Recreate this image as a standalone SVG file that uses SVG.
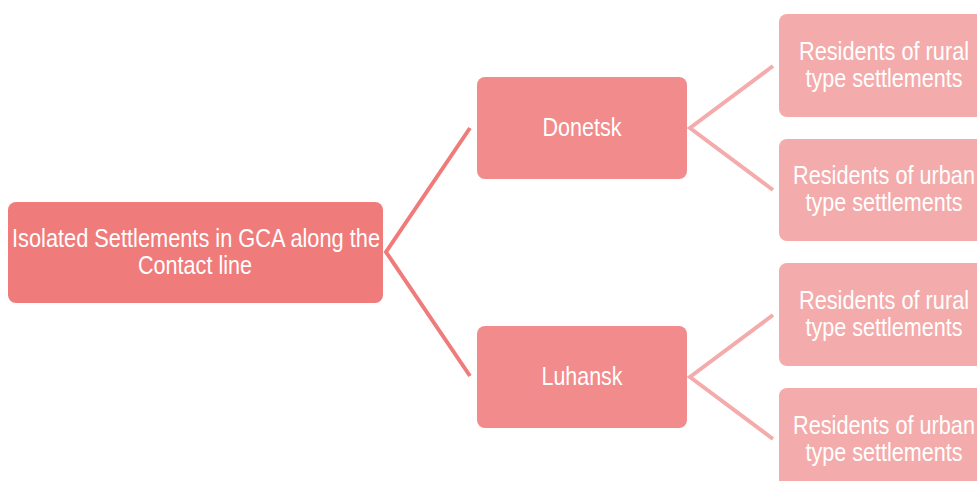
<svg xmlns="http://www.w3.org/2000/svg" width="977" height="481" viewBox="0 0 977 481">
<style>
text{font-family:"Liberation Sans",Arial,sans-serif;fill:#fff;font-size:25px;text-anchor:middle}
.root{fill:#F07B7B}
.l2{fill:#F28B8B}
.l3{fill:#F4ABAB}
.c1{stroke:#F07B7B;stroke-width:4;fill:none}
.c2{stroke:#F4ABAB;stroke-width:4;fill:none}
</style>
<rect width="977" height="481" fill="#fff"/>
<g id="connectors">
<polyline class="c1" points="470,128 386,252 470,376"/>
<polyline class="c2" points="773,66 690,128 773,190"/>
<polyline class="c2" points="773,315 690,377 773,439"/>
</g>
<g id="root">
<rect class="root" x="8" y="202" width="375" height="101" rx="8"/>
<text transform="translate(196,247) scale(0.86,1)" textLength="427.9" lengthAdjust="spacingAndGlyphs">Isolated Settlements in GCA along the</text>
<text transform="translate(195,274) scale(0.86,1)" textLength="132.6" lengthAdjust="spacingAndGlyphs">Contact line</text>
</g>
<g id="donetsk">
<rect class="l2" x="477" y="77" width="210" height="102" rx="8"/>
<text transform="translate(582,136) scale(0.86,1)" textLength="91.9" lengthAdjust="spacingAndGlyphs">Donetsk</text>
</g>
<g id="luhansk">
<rect class="l2" x="477" y="326" width="210" height="102" rx="8"/>
<text transform="translate(582,385) scale(0.86,1)" textLength="94.2" lengthAdjust="spacingAndGlyphs">Luhansk</text>
</g>
<g id="donetsk-rural">
<path class="l3" d="M787,14 H977 V117 H787 A8,8 0 0 1 779,109 V22 A8,8 0 0 1 787,14 Z"/>
<text transform="translate(884,60) scale(0.86,1)" textLength="197.7" lengthAdjust="spacingAndGlyphs">Residents of rural</text>
<text transform="translate(884,87) scale(0.86,1)" textLength="182.6" lengthAdjust="spacingAndGlyphs">type settlements</text>
</g>
<g id="donetsk-urban">
<path class="l3" d="M787,139 H977 V241 H787 A8,8 0 0 1 779,233 V147 A8,8 0 0 1 787,139 Z"/>
<text transform="translate(884,184) scale(0.86,1)" textLength="211.6" lengthAdjust="spacingAndGlyphs">Residents of urban</text>
<text transform="translate(884,211) scale(0.86,1)" textLength="182.6" lengthAdjust="spacingAndGlyphs">type settlements</text>
</g>
<g id="luhansk-rural">
<path class="l3" d="M787,263 H977 V366 H787 A8,8 0 0 1 779,358 V271 A8,8 0 0 1 787,263 Z"/>
<text transform="translate(884,309) scale(0.86,1)" textLength="197.7" lengthAdjust="spacingAndGlyphs">Residents of rural</text>
<text transform="translate(884,336) scale(0.86,1)" textLength="182.6" lengthAdjust="spacingAndGlyphs">type settlements</text>
</g>
<g id="luhansk-urban">
<path class="l3" d="M787,388 H977 V481 H779 V396 A8,8 0 0 1 787,388 Z"/>
<text transform="translate(884,434) scale(0.86,1)" textLength="211.6" lengthAdjust="spacingAndGlyphs">Residents of urban</text>
<text transform="translate(884,461) scale(0.86,1)" textLength="182.6" lengthAdjust="spacingAndGlyphs">type settlements</text>
</g>
</svg>
